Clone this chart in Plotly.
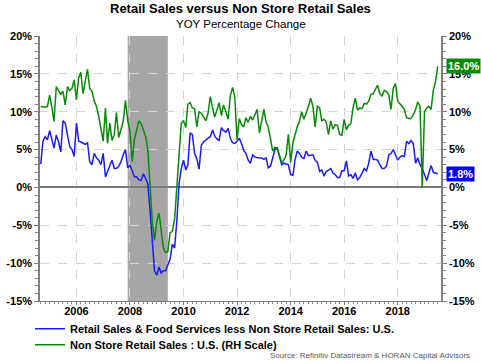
import pandas as pd
import plotly.graph_objects as go

# ---- data (YoY % change, monthly, Sep 2004 .. Jul 2019) ----
start_month = "2004-09-01"
retail_less_nonstore = [
    3.1, 6.1, 6.7, 6.3,
    7.5, 6.3, 5.2, 6.9, 6.1, 4.7, 8.8, 8.5, 6.9, 5.4, 5.0, 4.1,
    8.5, 6.1, 6.0, 5.8, 5.7, 5.9, 3.4, 3.0, 4.5, 3.9, 3.6, 3.0,
    4.5, 1.4, 2.1, 2.8, 3.6, 2.5, 2.5, 2.8, 3.4, 4.3, 5.0, 2.6,
    2.9, 2.2, 1.4, 1.4, 1.0, 0.9, 1.8, 1.2, 0.5, -3.0, -7.5, -11.0,
    -11.6, -10.5, -11.3, -11.0, -11.0, -10.2, -9.5, -7.5, -8.0, -4.5, 0.5, 2.5,
    3.6, 2.3, 3.0, 7.2, 7.0, 4.5, 3.8, 2.4, 5.6, 6.0, 6.3, 6.5,
    6.7, 7.6, 6.8, 6.4, 6.2, 7.9, 7.5, 7.3, 7.8, 6.5, 5.9, 5.8,
    6.1, 6.5, 5.8, 4.9, 4.5, 3.6, 3.2, 4.3, 4.0, 3.9, 3.9, 3.9,
    3.7, 3.9, 2.6, 2.8, 3.9, 5.0, 5.2, 4.1, 3.0, 3.2, 3.1, 3.0,
    1.7, 1.6, 3.6, 4.8, 4.5, 4.0, 3.8, 4.8, 4.2, 4.3, 4.3, 3.6,
    3.3, 2.1, 2.3, 1.5, 2.1, 2.3, 2.5, 1.9, 1.7, 1.3, 1.3, 2.2,
    2.2, 3.5, 1.5, 1.7, 1.2, 1.9, 1.0, 1.3, 1.9, 2.5, 2.2, 3.2,
    4.8, 3.7, 3.7, 3.6, 3.0, 2.5, 2.5, 2.8, 4.3, 4.5, 5.0, 4.2,
    3.6, 4.0, 4.2, 4.1, 6.1, 5.8, 6.2, 5.8, 3.2, 3.9, 3.0, 2.5,
    1.6, 0.9, 1.9, 2.9, 2.0, 1.9, 1.8,
]
nonstore = [
    10.7, 10.6, 10.6, 10.7,
    12.2, 10.5, 8.7, 13.3, 12.7, 12.3, 12.7, 10.9, 13.3, 12.8, 13.1, 14.2,
    11.6, 14.5, 15.2, 12.4, 14.0, 15.6, 13.1, 12.7, 11.4, 10.7, 9.4, 7.6,
    6.1, 10.5, 5.8, 8.5, 6.2, 7.0, 9.9, 6.6, 7.7, 8.7, 11.5, 8.9,
    7.4, 3.4, 6.3, 7.5, 8.8, 8.4, 7.7, 6.8, 4.9, 0.6, -4.5, -7.0,
    -4.5, -3.4, -6.0, -8.0, -8.6, -8.5, -6.0, -5.8, -4.2, -0.3, 4.5, 8.5,
    8.8, 7.9, 11.0, 11.2, 10.5, 10.4, 8.0, 10.0, 9.8, 9.2, 8.8, 9.8,
    12.0, 10.5, 9.3, 10.2, 11.2, 9.5, 10.9, 10.0, 9.0, 12.1, 13.2, 12.0,
    6.3, 9.1, 8.3, 8.0, 9.2, 8.6, 9.4, 8.9, 9.6, 10.3, 7.2, 8.5,
    10.3, 8.6, 8.0, 6.4, 4.8, 5.3, 5.2, 4.3, 3.3, 3.6, 4.3, 7.0,
    3.3, 5.9, 7.0, 8.0, 8.7, 10.0, 9.0, 9.8, 10.7, 11.8, 10.7, 8.0,
    10.7, 10.5, 8.8, 9.0, 8.6, 7.0, 8.8, 7.7, 8.3, 8.2, 7.0, 6.9,
    9.0, 7.6, 8.2, 8.4, 10.5, 11.8, 10.2, 10.5, 10.4, 11.1, 11.0, 11.4,
    12.3, 12.4, 12.9, 13.5, 12.4, 12.1, 12.8, 12.7, 12.2, 10.3, 13.1, 13.7,
    11.4, 11.1, 10.7, 10.3, 9.2, 9.1, 9.1, 9.6, 10.3, 11.3, 10.7, 0.0,
    10.0, 10.5, 10.7, 10.3, 12.8, 14.0, 16.0,
]
recession = ["2007-12-01", "2009-06-01"]
year_ticks = ["2006", "2008", "2010", "2012", "2014", "2016", "2018"]
pct_ticks = [-15, -10, -5, 0, 5, 10, 15, 20]

dates = pd.date_range(start_month, periods=len(nonstore), freq="MS")

BLUE = "#1a1aff"
GREEN = "#078a07"
FONT = "Arial, Liberation Sans, sans-serif"
AX = "#7f7f7f"

fig = go.Figure()
fig.add_trace(go.Scatter(
    x=dates, y=retail_less_nonstore, mode="lines",
    name="Retail Sales & Food Services less Non Store Retail Sales: U.S.",
    line=dict(color=BLUE, width=1.5), yaxis="y", legend="legend"))
fig.add_trace(go.Scatter(
    x=dates, y=nonstore, mode="lines",
    name="Non Store Retail Sales : U.S. (RH Scale)",
    line=dict(color=GREEN, width=1.5), yaxis="y2", legend="legend2"))

fig.add_shape(type="rect", xref="x", yref="paper",
              x0=recession[0], x1=recession[1], y0=0, y1=1,
              fillcolor="#a6a6a6", line_width=0, layer="below")

tickfont = dict(family=FONT, size=11, color="#000000", weight="bold")
legfont = dict(family=FONT, size=11, color="#000000", weight="bold")
ytext = [f"{v}%" for v in pct_ticks]

fig.update_layout(
    width=481, height=363,
    margin=dict(l=40, r=40, t=36, b=62, autoexpand=False),
    paper_bgcolor="white", plot_bgcolor="white",
    showlegend=True,
    legend=dict(x=-0.025, y=-0.05, xanchor="left", yanchor="top", font=legfont,
                itemwidth=30, bgcolor="rgba(0,0,0,0)"),
    legend2=dict(x=-0.025, y=-0.11, xanchor="left", yanchor="top", font=legfont,
                 itemwidth=30, bgcolor="rgba(0,0,0,0)"),
    xaxis=dict(type="date", range=["2004-08-22", "2019-08-14"],
               tickvals=[f"{y}-01-01" for y in year_ticks], ticktext=year_ticks,
               tickfont=tickfont, showgrid=True, gridcolor="#d4d4d4", griddash="dash",
               gridwidth=1, showline=True, linecolor=AX, linewidth=1,
               ticks="outside", ticklen=3, tickcolor=AX, ticklabelstandoff=-3,
               minor=dict(dtick="M2", tick0="2004-09-01", ticks="outside", ticklen=2,
                          tickcolor=AX, showgrid=False),
               zeroline=False),
    yaxis=dict(range=[-15, 20], tickvals=pct_ticks, ticktext=ytext, tickfont=tickfont,
               showgrid=True, gridcolor="#d4d4d4", griddash="dash", gridwidth=1,
               zeroline=True, zerolinecolor="#7a7a7a", zerolinewidth=1.5,
               showline=True, linecolor=AX, linewidth=1.5,
               ticks="outside", ticklen=4, tickcolor=AX,
               minor=dict(dtick=1, ticks="outside", ticklen=3, tickcolor=AX, showgrid=False)),
    yaxis2=dict(range=[-15, 20], tickvals=pct_ticks, ticktext=ytext, tickfont=tickfont,
                overlaying="y", side="right", showgrid=False, zeroline=False,
                showline=True, linecolor=AX, linewidth=1.5,
                ticks="outside", ticklen=4, tickcolor=AX,
                minor=dict(dtick=1, ticks="outside", ticklen=3, tickcolor=AX)),
    annotations=[
        dict(text="<b>Retail Sales versus Non Store Retail Sales</b>", xref="paper", yref="paper",
             x=0.5, y=1.105, xanchor="center", yanchor="middle", showarrow=False,
             font=dict(family=FONT, size=13, color="#000000")),
        dict(text="YOY Percentage Change", xref="paper", yref="paper",
             x=0.5, y=1.047, xanchor="center", yanchor="middle", showarrow=False,
             font=dict(family=FONT, size=11.5, color="#000000")),
        dict(text="<b>%.1f%%</b>" % nonstore[-1], xref="paper", yref="y2",
             x=1, y=nonstore[-1], xanchor="left", yanchor="middle", xshift=5,
             showarrow=False, bgcolor=GREEN, borderpad=1,
             font=dict(family=FONT, size=11, color="white")),
        dict(text="<b>%.1f%%</b>" % retail_less_nonstore[-1], xref="paper", yref="y",
             x=1, y=retail_less_nonstore[-1], xanchor="left", yanchor="middle", xshift=5,
             showarrow=False, bgcolor="#0000ff", borderpad=1,
             font=dict(family=FONT, size=11, color="white")),
        dict(text="Source: Refinitiv Datastream & HORAN Capital Advisors", xref="paper",
             yref="paper", x=1.077, y=-0.205, xanchor="right", yanchor="middle",
             showarrow=False, font=dict(family=FONT, size=8, color="#595959")),
    ],
)

fig.write_html("out.html", config={"displayModeBar": False},
               post_script="document.body.style.margin='0';document.body.style.padding='0';")
